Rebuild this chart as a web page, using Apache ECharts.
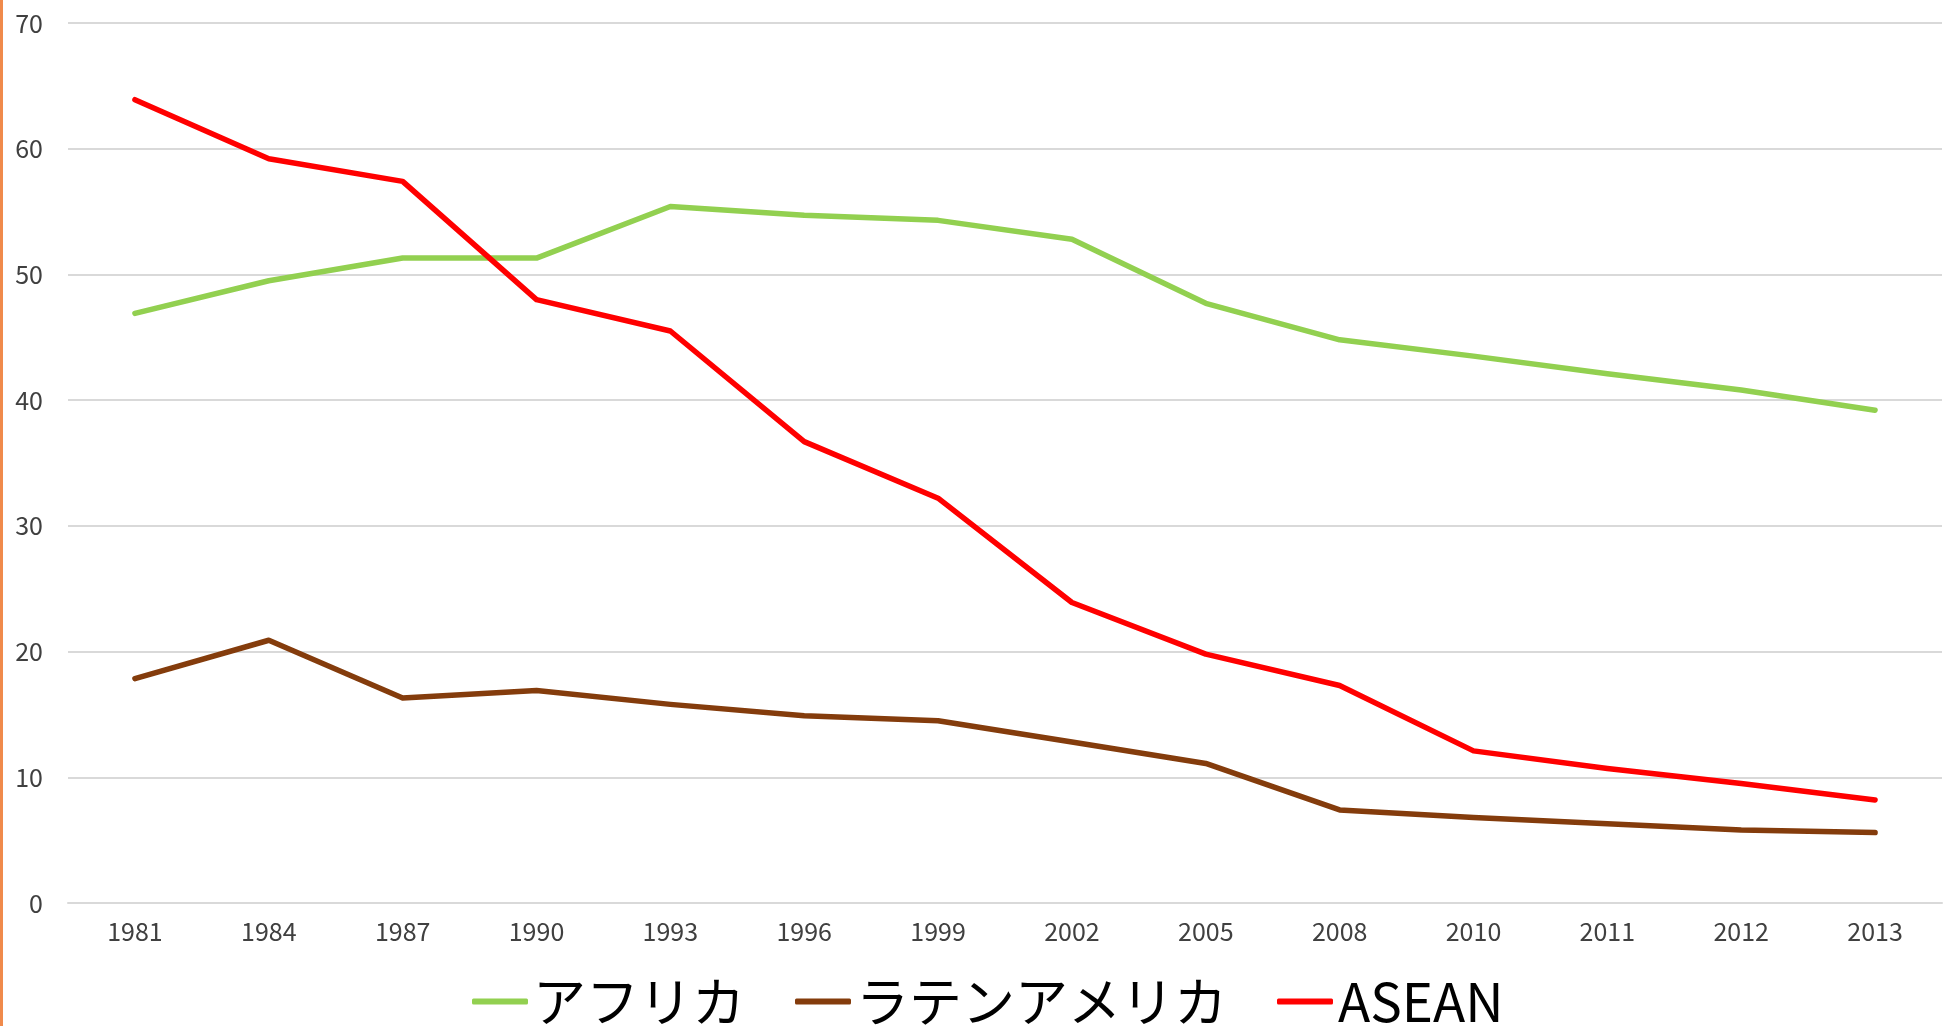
<!DOCTYPE html>
<html><head><meta charset="utf-8">
<script src="https://cdn.jsdelivr.net/npm/echarts@6/dist/echarts.min.js"></script>
<style>html,body{margin:0;padding:0;background:#fff}#c{width:1947px;height:1026px}</style>
</head><body><div id="c"></div>
<script>
const years = ['1981','1984','1987','1990','1993','1996','1999','2002','2005','2008','2010','2011','2012','2013'];
const africa = [46.9,49.5,51.3,51.3,55.4,54.7,54.3,52.8,47.7,44.8,43.5,42.1,40.8,39.2];
const latinAmerica = [17.85,20.9,16.3,16.9,15.8,14.9,14.5,12.8,11.1,7.4,6.8,6.3,5.8,5.6];
const asean = [63.9,59.2,57.4,48.0,45.5,36.7,32.2,23.9,19.8,17.3,12.1,10.7,9.5,8.2];
const seriesNames = ['アフリカ','ラテンアメリカ','ASEAN'];
const colors = ['#92D050','#843C0C','#FF0000'];

const chart = echarts.init(document.getElementById('c'));
const labelFont = "'Liberation Sans Narrow','Noto Sans CJK JP',sans-serif";
const mk = (name, data, color) => ({
  name, type: 'line', data, symbol: 'none', smooth: false,
  lineStyle: {color, width: 5.5, cap: 'round', join: 'round'},
  itemStyle: {color}
});
chart.setOption({
  animation: false,
  backgroundColor: '#fff',
  grid: {left: 68, right: 5, top: 23, bottom: 123, containLabel: false},
  graphic: [{type: 'rect', shape: {x: 0, y: 0, width: 3, height: 1026}, style: {fill: '#F08A4B'}}],
  xAxis: {
    type: 'category', data: years, boundaryGap: true,
    axisLine: {show: true, lineStyle: {color: '#d9d9d9', width: 2}},
    axisTick: {show: false},
    axisLabel: {color: '#404040', fontSize: 25, fontFamily: labelFont, margin: 16}
  },
  yAxis: {
    type: 'value', min: 0, max: 70, interval: 10,
    axisLine: {show: false}, axisTick: {show: false},
    splitLine: {lineStyle: {color: '#d9d9d9', width: 2}},
    axisLabel: {color: '#404040', fontSize: 25, fontFamily: labelFont, margin: 25}
  },
  legend: {
    data: seriesNames, left: 467, top: 970, itemGap: 50,
    icon: 'roundRect', itemWidth: 56, itemHeight: 6,
    textStyle: {fontSize: 53, fontFamily: "'Noto Sans CJK JP',sans-serif", color: '#000'}
  },
  series: [mk(seriesNames[0], africa, colors[0]), mk(seriesNames[1], latinAmerica, colors[1]), mk(seriesNames[2], asean, colors[2])]
});
</script></body></html>
